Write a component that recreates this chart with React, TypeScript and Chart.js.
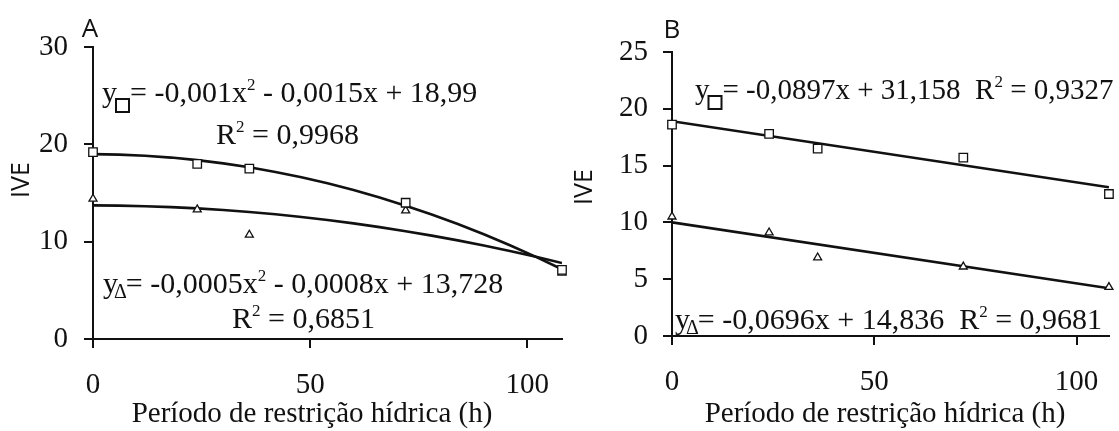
import React, { useEffect, useRef } from "react";
import { Chart, registerables } from "chart.js";

Chart.register(...registerables);

// ---------------- data ----------------
const hoursA = [0, 24, 36, 72, 108];
const squareA = [19.2, 18.0, 17.5, 14.0, 7.1];
const triangleA = [14.4, 13.3, 10.7, 13.2, 6.8];
// quadratic trend coefficients shown on the chart (a, b, c)
const fitSquareA = [-0.001, -0.0015, 18.99];
const fitTriangleA = [-0.0005, -0.0008, 13.728];
const fitXsA = [0, 6, 12, 18, 24, 30, 36, 42, 48, 54, 60, 66, 72, 78, 84, 90, 96, 102, 108];

const hoursB = [0, 24, 36, 72, 108];
const squareB = [18.6, 17.8, 16.5, 15.7, 12.5];
const triangleB = [10.5, 9.1, 6.9, 6.1, 4.3];
// straight trend lines as drawn (end points)
const fitXsB = [0, 108];
const fitSquareB = [18.9, 13.1];
const fitTriangleB = [10.0, 4.2];

const xTickValues = [0, 50, 100];
const yTickValuesA = [0, 10, 20, 30];
const yTickValuesB = [0, 5, 10, 15, 20, 25];

const xTitle = "Período de restrição hídrica (h)";
const yTitle = "IVE";

// ---------------- styling ----------------
const INK = "#111";
const SERIF = '"Liberation Serif", "Times New Roman", serif';
const SANS = '"Open Sans", "DejaVu Sans", sans-serif';
const TICK_FS = 29;
const MAIN = `30px ${SERIF}`;
const MAIN_B1 = `29px ${SERIF}`;
const TITLE = `29px ${SERIF}`;
const SUP = `17px ${SERIF}`;
const DELTA = `20px ${SERIF}`;

type Run = { t?: string; font?: string; dy?: number; dx?: number; box?: number[] };
type Note = {
  x: number;
  y: number;
  runs: Run[];
  align?: "left" | "center";
  rotate?: boolean;
  baseline?: CanvasTextBaseline;
};

function drawNote(ctx: CanvasRenderingContext2D, n: Note) {
  ctx.save();
  ctx.fillStyle = INK;
  ctx.strokeStyle = INK;
  ctx.textAlign = "left";
  ctx.textBaseline = n.baseline || "alphabetic";
  const widths = n.runs.map((r) => {
    if (r.box) return r.box[0] + (r.dx || 0);
    ctx.font = r.font || MAIN;
    return ctx.measureText(r.t || "").width + (r.dx || 0);
  });
  const total = widths.reduce((a, b) => a + b, 0);
  let x0 = n.x;
  let y0 = n.y;
  if (n.rotate) {
    ctx.translate(n.x, n.y);
    ctx.rotate(-Math.PI / 2);
    x0 = 0;
    y0 = 0;
  }
  let cx = n.align === "center" ? x0 - total / 2 : x0;
  n.runs.forEach((r, i) => {
    const dx = r.dx || 0;
    if (r.box) {
      ctx.lineWidth = 2;
      ctx.strokeRect(cx + dx, y0 + (r.dy || 0), r.box[0], r.box[1]);
    } else {
      ctx.font = r.font || MAIN;
      ctx.fillText(r.t || "", cx + dx, y0 + (r.dy || 0));
    }
    cx += widths[i];
  });
  ctx.restore();
}

function notesPlugin(items: Note[]) {
  return {
    id: "notes",
    afterDraw(chart: Chart) {
      items.forEach((n) => drawNote(chart.ctx, n));
    },
  };
}

const notesA: Note[] = [
  { x: 90, y: 37, align: "center", runs: [{ t: "A", font: `26px ${SANS}` }] },
  { x: 22, y: 180, rotate: true, align: "center", baseline: "middle", runs: [{ t: yTitle, font: `25px ${SANS}` }] },
  {
    x: 102,
    y: 102,
    runs: [
      { t: "y" },
      { box: [13, 13], dy: -3, dx: -1 },
      { t: "= -0,001x", dx: 1 },
      { t: "2", font: SUP, dy: -12 },
      { t: " - 0,0015x + 18,99" },
    ],
  },
  { x: 216, y: 144, runs: [{ t: "R" }, { t: "2", font: SUP, dy: -12 }, { t: " = 0,9968" }] },
  {
    x: 103,
    y: 293,
    runs: [
      { t: "y" },
      { t: "Δ", font: DELTA, dx: -4, dy: 5 },
      { t: "= -0,0005x", dx: -1 },
      { t: "2", font: SUP, dy: -12 },
      { t: " - 0,0008x + 13,728" },
    ],
  },
  { x: 232, y: 328, runs: [{ t: "R" }, { t: "2", font: SUP, dy: -12 }, { t: " = 0,6851" }] },
  { x: 312, y: 422, align: "center", runs: [{ t: xTitle, font: TITLE }] },
];

const notesB: Note[] = [
  { x: 112, y: 38, align: "center", runs: [{ t: "B", font: `26px ${SANS}` }] },
  { x: 25, y: 187, rotate: true, align: "center", baseline: "middle", runs: [{ t: yTitle, font: `25px ${SANS}` }] },
  {
    x: 135,
    y: 99,
    runs: [
      { t: "y", font: MAIN_B1 },
      { box: [13, 13], dy: -3, dx: -1 },
      { t: "= -0,0897x + 31,158  R", font: MAIN_B1, dx: 1 },
      { t: "2", font: SUP, dy: -12 },
      { t: " = 0,9327", font: MAIN_B1 },
    ],
  },
  {
    x: 115,
    y: 329,
    runs: [
      { t: "y" },
      { t: "Δ", font: DELTA, dx: -4, dy: 5 },
      { t: "= -0,0696x + 14,836  R", dx: -1 },
      { t: "2", font: SUP, dy: -12 },
      { t: " = 0,9681" },
    ],
  },
  { x: 325, y: 422, align: "center", runs: [{ t: xTitle, font: TITLE }] },
];

function pts(xs: number[], ys: number[]) {
  return xs.map((x, i) => ({ x, y: ys[i] }));
}

function quad(c: number[], xs: number[]) {
  return xs.map((x) => ({ x, y: c[0] * x * x + c[1] * x + c[2] }));
}

type PanelSpec = {
  width: number;
  top: number;
  right: number;
  yWidth: number;
  xHeight: number;
  yMax: number;
  yTicks: number[];
  yPad: number;
  squares: { x: number; y: number }[];
  triangles: { x: number; y: number }[];
  fitSq: { x: number; y: number }[];
  fitTr: { x: number; y: number }[];
  notes: Note[];
};

function buildConfig(s: PanelSpec): any {
  const gridOpts = {
    display: true,
    drawOnChartArea: false,
    drawTicks: true,
    tickLength: 9,
    color: INK,
    lineWidth: 2,
  };
  const marker = {
    showLine: false,
    pointBackgroundColor: "#fff",
    pointBorderColor: INK,
    pointBorderWidth: 1.3,
    clip: false,
  };
  const fit = {
    showLine: true,
    pointRadius: 0,
    borderColor: INK,
    borderWidth: 2.6,
    tension: 0,
  };
  return {
    type: "scatter",
    data: {
      datasets: [
        { ...marker, label: "quadrado", data: s.squares, pointStyle: "rect", pointRadius: 6, order: 0 },
        { ...marker, label: "triângulo", data: s.triangles, pointStyle: "triangle", pointRadius: 4.6, order: 1 },
        { ...fit, label: "ajuste quadrado", data: s.fitSq, order: 2 },
        { ...fit, label: "ajuste triângulo", data: s.fitTr, order: 3 },
      ],
    },
    options: {
      responsive: false,
      animation: false,
      devicePixelRatio: 1,
      layout: { padding: { left: 0, top: s.top, right: s.right, bottom: 0 } },
      plugins: { legend: { display: false }, tooltip: { enabled: false }, title: { display: false } },
      scales: {
        x: {
          type: "linear",
          min: 0,
          max: 108,
          afterBuildTicks: (sc: any) => {
            sc.ticks = xTickValues.map((v) => ({ value: v }));
          },
          afterFit: (sc: any) => {
            sc.height = s.xHeight;
          },
          ticks: { font: { family: SERIF, size: TICK_FS }, color: INK, padding: 20, maxRotation: 0, autoSkip: false },
          grid: gridOpts,
          border: { display: true, color: INK, width: 2 },
        },
        y: {
          type: "linear",
          min: 0,
          max: s.yMax,
          afterBuildTicks: (sc: any) => {
            sc.ticks = s.yTicks.map((v) => ({ value: v }));
          },
          afterFit: (sc: any) => {
            sc.width = s.yWidth;
          },
          ticks: { font: { family: SERIF, size: TICK_FS }, color: INK, padding: s.yPad, autoSkip: false },
          grid: gridOpts,
          border: { display: true, color: INK, width: 2 },
        },
      },
    },
    plugins: [notesPlugin(s.notes)],
  };
}

const specA: PanelSpec = {
  width: 575,
  top: 47,
  right: 13,
  yWidth: 93,
  xHeight: 92,
  yMax: 30,
  yTicks: yTickValuesA,
  yPad: 16,
  squares: pts(hoursA, squareA),
  triangles: pts(hoursA, triangleA),
  fitSq: quad(fitSquareA, fitXsA),
  fitTr: quad(fitTriangleA, fitXsA),
  notes: notesA,
};

const specB: PanelSpec = {
  width: 559,
  top: 52,
  right: 9,
  yWidth: 112,
  xHeight: 95,
  yMax: 25,
  yTicks: yTickValuesB,
  yPad: 15,
  squares: pts(hoursB, squareB),
  triangles: pts(hoursB, triangleB),
  fitSq: pts(fitXsB, fitSquareB),
  fitTr: pts(fitXsB, fitTriangleB),
  notes: notesB,
};

function ChartPanel({ left, spec }: { left: number; spec: PanelSpec }) {
  const ref = useRef<HTMLCanvasElement | null>(null);
  useEffect(() => {
    if (!ref.current) return;
    const chart = new Chart(ref.current, buildConfig(spec));
    return () => chart.destroy();
  }, [spec]);
  return (
    <canvas
      ref={ref}
      width={spec.width}
      height={431}
      style={{ position: "absolute", left, top: 0, width: spec.width, height: 431, display: "block" }}
    />
  );
}

export default function App() {
  return (
    <div
      style={{
        position: "absolute",
        left: 0,
        top: 0,
        width: 1119,
        height: 431,
        background: "#fff",
        overflow: "hidden",
      }}
    >
      <ChartPanel left={0} spec={specA} />
      <ChartPanel left={560} spec={specB} />
    </div>
  );
}
